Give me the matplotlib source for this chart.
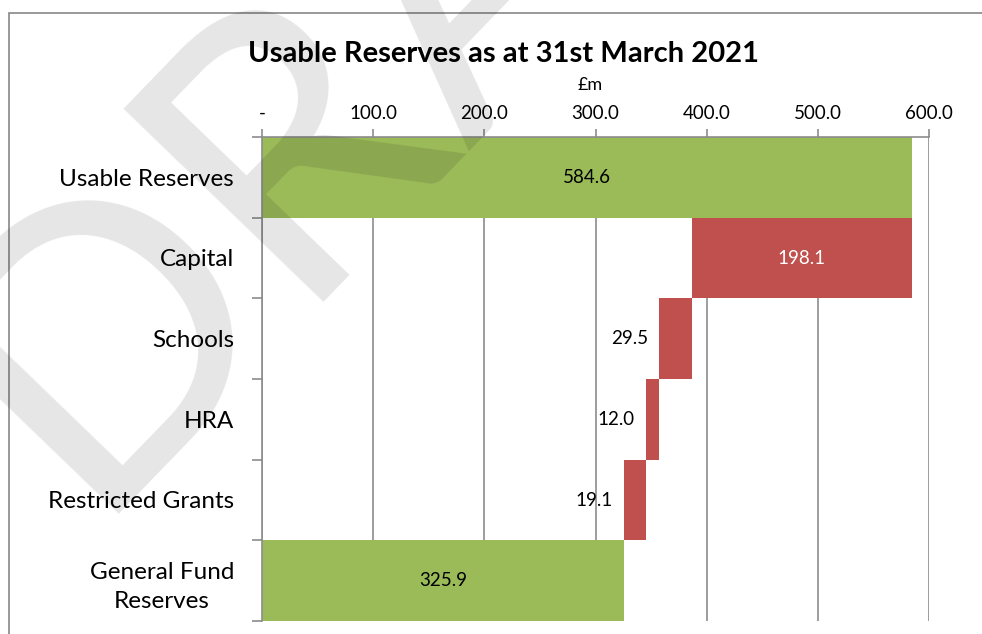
import numpy as np
import matplotlib
matplotlib.use("Agg")
import matplotlib.pyplot as plt
from matplotlib.patches import Rectangle

plt.rcParams['font.family'] = ['Lato', 'DejaVu Sans']

# Data
categories = ['Usable Reserves', 'Capital', 'Schools', 'HRA', 'Restricted Grants',
              'General Fund\nReserves']
values = [584.6, 198.1, 29.5, 12.0, 19.1, 325.9]
kinds = ['total', 'down', 'down', 'down', 'down', 'total']
xticks = [0, 100, 200, 300, 400, 500, 600]
xticklabels = ['-', '100.0', '200.0', '300.0', '400.0', '500.0', '600.0']

green = '#9BBB59'
red = '#C0504D'
grey = '#8C8C8C'

# Waterfall starting points
lefts = []
colors = []
running = 0.0
for v, k in zip(values, kinds):
    if k == 'total':
        lefts.append(0.0)
        colors.append(green)
        running = v
    else:
        running -= v
        lefts.append(running)
        colors.append(red)

fig = plt.figure(figsize=(9.82, 6.34), dpi=100)
ax = fig.add_axes([262 / 982, 1 - 621 / 634, (929 - 262) / 982, (621 - 137) / 634])

ypos = np.arange(len(categories))
ax.barh(ypos, values, left=lefts, height=1.0, color=colors, zorder=2)

ax.set_xlim(0, 600)
ax.set_ylim(len(categories) - 0.5, -0.5)

# Axes styling
ax.xaxis.tick_top()
ax.set_xticks(xticks)
ax.set_xticklabels(xticklabels, fontsize=13.5)
ax.tick_params(axis='x', length=6, width=1.2, color=grey, pad=5)
ax.grid(axis='x', color=grey, linewidth=1.2, zorder=1)
ax.set_axisbelow(True)

ax.set_yticks(np.arange(len(categories) + 1) - 0.5)
ax.set_yticklabels([])
ax.set_yticks(ypos, minor=True)
ax.set_yticklabels(categories, minor=True, fontsize=17.5, multialignment='center',
                   linespacing=1.5)
ax.tick_params(axis='y', which='major', length=7, width=1.2, color=grey)
ax.tick_params(axis='y', which='minor', length=0, pad=20)

for side in ['right', 'bottom']:
    ax.spines[side].set_visible(False)
for side in ['top', 'left']:
    ax.spines[side].set_color(grey)
    ax.spines[side].set_linewidth(1.2)

# Data labels
for i, (v, l, k) in enumerate(zip(values, lefts, kinds)):
    if k == 'total':
        ax.text(l + v / 2, i, f'{v:.1f}', ha='center', va='center', fontsize=13.5, color='black', zorder=3)
    elif v > 100:
        ax.text(l + v / 2, i, f'{v:.1f}', ha='center', va='center', fontsize=13.5, color='white', zorder=3)
    else:
        ax.annotate(f'{v:.1f}', xy=(l, i), xytext=(-8, 0), textcoords='offset points',
                    ha='right', va='center', fontsize=13.5, zorder=3)

# Titles
fig.text(503 / 982, 1 - 54 / 634, 'Usable Reserves as at 31st March 2021',
         ha='center', va='center', fontsize=21, fontweight='bold')
fig.text(590 / 982, 1 - 85 / 634, '£m', ha='center', va='center', fontsize=13)

# Chart border
fig.patches.append(Rectangle((9 / 982, -0.1), 1.2, 1.1 - 13 / 634, transform=fig.transFigure,
                             fill=False, edgecolor='#878787', linewidth=1.2))

# DRAFT watermark
fig.text(83 / 982, 1 - 514 / 634, 'DRAFT', rotation=46, rotation_mode='anchor',
         ha='left', va='baseline', fontsize=280, color='black', alpha=0.1, zorder=10)

fig.savefig('out.png', dpi=100)
